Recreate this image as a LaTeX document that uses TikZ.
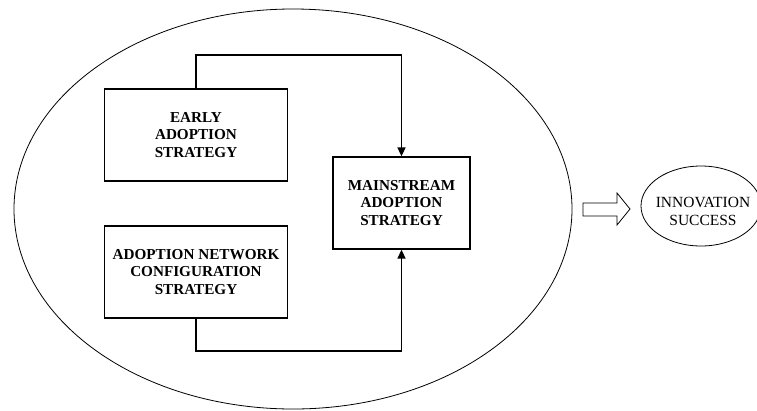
\documentclass[tikz,border=0pt]{standalone}
\usepackage{fontspec}
\setmainfont{Liberation Serif}
\usetikzlibrary{arrows.meta}
\begin{document}
\begin{tikzpicture}[x=1pt,y=-1pt,
  box/.style={draw,line width=1.3pt,inner sep=0pt,align=center,font=\fontsize{15.2}{17.5}\selectfont\bfseries},
  link/.style={line width=1.6pt,-{Triangle[length=9pt,width=8pt]}},
  thin/.style={line width=0.8pt}]
\useasboundingbox (0,0) rectangle (757,410);
\draw[thin] (293,209) ellipse [x radius=279, y radius=200];
\node[box,minimum width=183pt,minimum height=92pt] (early) at (196,135) {EARLY\\ADOPTION\\STRATEGY};
\node[box,minimum width=183pt,minimum height=92pt] (anc) at (196,272) {ADOPTION NETWORK\\CONFIGURATION\\STRATEGY};
\node[box,minimum width=137pt,minimum height=92pt] (main) at (401.5,203) {MAINSTREAM\\ADOPTION\\STRATEGY};
\coordinate (t1) at (early.north |- 0,55);
\coordinate (t2) at (main.north |- 0,55);
\coordinate (b1) at (anc.south |- 0,351);
\coordinate (b2) at (main.south |- 0,351);
\draw[link] (early.north) -- (t1) -- (t2) -- (main.north);
\draw[link] (anc.south) -- (b1) -- (b2) -- (main.south);
\draw[thin,line join=miter] (583,203) -- (617,203) -- (617,193) -- (630,209) -- (617,225) -- (617,216) -- (583,216) -- cycle;
\draw[thin] (701,206) ellipse [x radius=60, y radius=40];
\node[align=center,font=\fontsize{15.5}{18}\selectfont] (succ) at (703,211) {INNOVATION\\SUCCESS};
\end{tikzpicture}
\end{document}
